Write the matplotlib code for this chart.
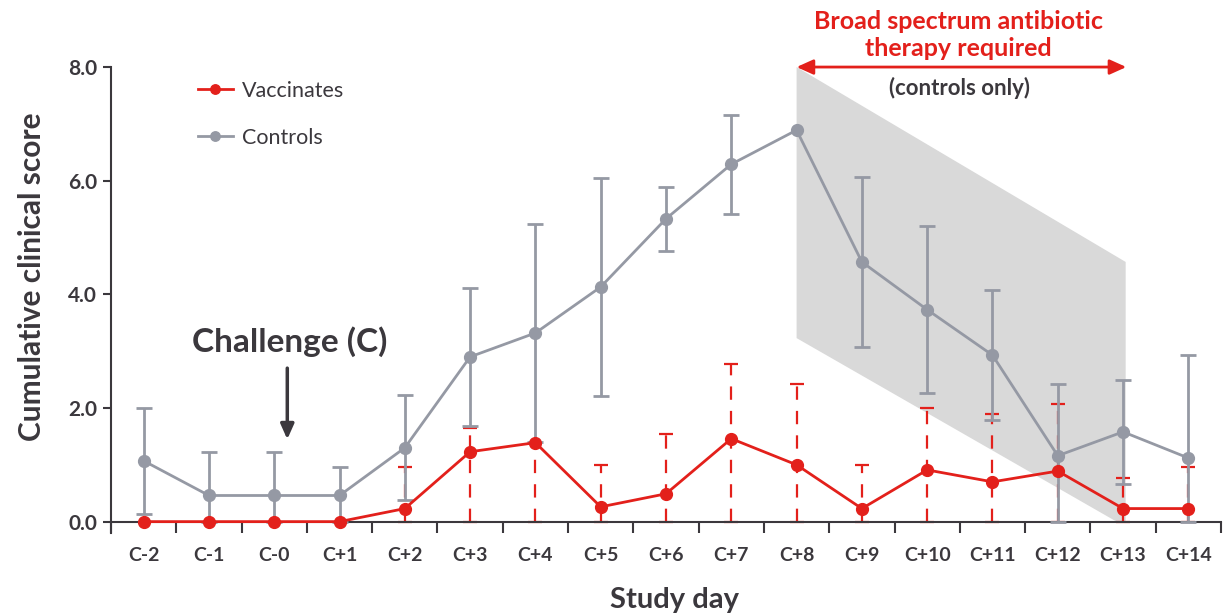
import numpy as np
import matplotlib
matplotlib.use("Agg")
import matplotlib.pyplot as plt
from matplotlib.patches import Polygon

# ---- data ----
days = ["C-2", "C-1", "C-0", "C+1", "C+2", "C+3", "C+4", "C+5", "C+6",
        "C+7", "C+8", "C+9", "C+10", "C+11", "C+12", "C+13", "C+14"]
controls_mean = [1.07, 0.46, 0.46, 0.46, 1.30, 2.90, 3.32, 4.13, 5.33,
                 6.29, 6.89, 4.57, 3.73, 2.93, 1.16, 1.58, 1.12]
controls_err = [0.93, 0.77, 0.77, 0.51, 0.92, 1.22, 1.92, 1.92, 0.56,
                0.87, 0.0, 1.50, 1.47, 1.15, 1.27, 0.91, 1.81]
vacc_mean = [0.0, 0.0, 0.0, 0.0, 0.23, 1.23, 1.39, 0.26, 0.49,
             1.46, 1.0, 0.23, 0.91, 0.70, 0.89, 0.23, 0.23]
vacc_upper = [0.0, 0.0, 0.0, 0.0, 0.97, 1.65, 1.39, 1.0, 1.55,
              2.78, 2.43, 1.0, 2.0, 1.90, 2.07, 0.76, 0.97]
yticks = [0, 2, 4, 6, 8]

RED = "#e3201b"
GRAY = "#9599a4"
DARK = "#3b383d"

plt.rcParams['font.family'] = ['Lato', 'DejaVu Sans']

fig = plt.figure(figsize=(12.23, 6.16), dpi=100)
ax = fig.add_axes([111/1223, (616-533)/616, 1110/1223, (533-50)/616])

x = np.arange(len(days))
cm = np.array(controls_mean)
ce = np.array(controls_err)
vm = np.array(vacc_mean)
vu = np.array(vacc_upper)

# shaded region (antibiotic therapy period)
poly = Polygon([(10.0, 8.0), (15.04, 4.57), (15.04, 0.0), (14.9, 0.0), (10.0, 3.23)],
               closed=True, facecolor="#d9d9d9", edgecolor="none", zorder=1)
ax.add_patch(poly)

# vaccinates error bars (dashed, from 0 to upper)
mask_v = vm > 0
eb = ax.errorbar(x[mask_v], vm[mask_v], yerr=[vm[mask_v], vu[mask_v] - vm[mask_v]],
                 fmt="none", ecolor=RED, elinewidth=1.6, capsize=5, capthick=1.6, zorder=2)
for lc in eb[2]:
    lc.set_linestyle((0, (6, 5)))

# controls error bars (solid, clipped at zero)
mask_c = ce > 0
low = np.minimum(ce, cm)
ax.errorbar(x[mask_c], cm[mask_c], yerr=[low[mask_c], ce[mask_c]],
            fmt="none", ecolor=GRAY, elinewidth=2.0, capsize=6, capthick=2.0, zorder=3)

# lines
ax.plot(x, cm, color=GRAY, lw=2.0, marker="o", ms=8.5, zorder=4, label="Controls")
ax.plot(x, vm, color=RED, lw=2.0, marker="o", ms=8.5, zorder=5, label="Vaccinates")

# axes styling
ax.set_xlim(-0.5, 16.5)
ax.set_ylim(-0.2, 8.3)
for s in ["top", "right"]:
    ax.spines[s].set_visible(False)
ax.spines["left"].set_bounds(-0.2, 8.0)
ax.spines["bottom"].set_position(("data", 0))
for s in ["left", "bottom"]:
    ax.spines[s].set_color(DARK)
    ax.spines[s].set_linewidth(1.5)

ax.set_yticks(yticks)
ax.set_yticklabels([f"{v:.1f}" for v in yticks], fontsize=15, fontweight="bold", color=DARK)
ax.tick_params(axis="y", length=6, width=1.5, color=DARK, pad=4)

# labels at category centres (major, no tick mark), tick marks at boundaries (minor)
ax.set_xticks(x)
ax.set_xticklabels(days, fontsize=14, fontweight="bold", color=DARK)
ax.tick_params(axis="x", which="major", length=0, pad=18)
ax.set_xticks(np.arange(-0.5, 17.0, 1.0), minor=True)
ax.tick_params(axis="x", which="minor", length=8, width=1.5, color=DARK, direction="out")

ax.set_ylabel("Cumulative clinical score", fontsize=21.5, fontweight="bold", color=DARK)
ax.yaxis.label.set_va("center")
ax.yaxis.set_label_coords(-0.071, 0.53)
ax.set_xlabel("Study day", fontsize=21, fontweight="bold", color=DARK)
ax.xaxis.label.set_va("center")
ax.xaxis.set_label_coords(0.508, -0.139)

# legend
handles, labels = ax.get_legend_handles_labels()
leg = ax.legend(handles[::-1], labels[::-1], loc="upper left", bbox_to_anchor=(0.061, 0.976),
                frameon=False, fontsize=15.5, labelspacing=1.25, handlelength=1.6,
                handletextpad=0.45, markerscale=0.8)
for t in leg.get_texts():
    t.set_color(DARK)

# challenge annotation
ax.text(2.24, 3.17, "Challenge (C)", ha="center", va="center", fontsize=24,
        fontweight="bold", color=DARK)
ax.annotate("", xy=(2.2, 1.4), xytext=(2.2, 2.75),
            arrowprops=dict(arrowstyle="-|>,head_length=0.9,head_width=0.4",
                            color=DARK, lw=2.5))

# antibiotic therapy annotation
ax.annotate("", xy=(10.0, 8.0), xytext=(15.05, 8.0),
            arrowprops=dict(arrowstyle="<|-|>,head_length=1.0,head_width=0.45",
                            color=RED, lw=2.0, shrinkA=0, shrinkB=0))
ax.text(12.48, 8.57, "Broad spectrum antibiotic\ntherapy required", ha="center",
        va="center", fontsize=18, fontweight="bold", color=RED,
        linespacing=1.2, clip_on=False)
ax.text(12.5, 7.64, "(controls only)", ha="center", va="center", fontsize=16,
        fontweight="bold", color=DARK)

fig.savefig("out.png", dpi=100)
